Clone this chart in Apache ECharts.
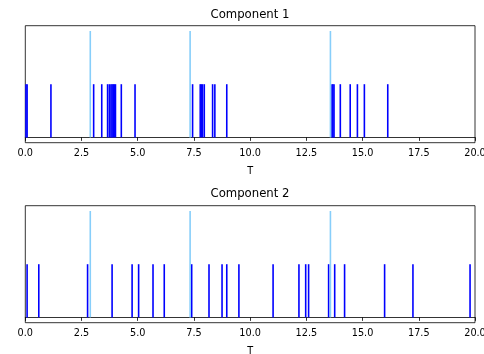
<!DOCTYPE html>
<html>
<head>
<meta charset="utf-8">
<script src="https://cdn.jsdelivr.net/npm/echarts@6/dist/echarts.min.js"></script>
<style>html,body{margin:0;padding:0;background:#fff;overflow:hidden}#c{width:484px;height:354px}</style>
</head>
<body>
<div id="c"></div>
<script>
// ---- data ----
const titles = ["Component 1", "Component 2"];
const axisName = "T";
const xTicks = [0, 2.5, 5, 7.5, 10, 12.5, 15, 17.5, 20];
const comp1Events = [0.03, 0.08, 1.14, 3.04, 3.40, 3.66, 3.74, 3.81, 3.86, 3.91, 3.96, 4.01, 4.27, 4.88,
  7.44, 7.78, 7.83, 7.88, 7.96, 8.33, 8.43, 8.96,
  13.64, 13.68, 13.73, 14.01, 14.45, 14.77, 15.08, 16.12];
const comp2Events = [0.08, 0.60, 2.77, 3.86, 4.75, 5.04, 5.68, 6.18, 7.40, 8.17, 8.75, 8.96, 9.50,
  11.02, 12.17, 12.47, 12.60, 13.49, 13.76, 14.20, 15.98, 17.24, 19.78];
const changePoints = [2.89, 7.33, 13.57];
const eventHeight = 0.5;
const changeHeight = 1.0;

// ---- chart ----
const chart = echarts.init(document.getElementById('c'), null, {renderer: 'canvas', width: 484, height: 354});
const FONT = 'DejaVu Sans';
const grids = [
  {left: 25.3, width: 449.7, top: 25.7, height: 117, show: true, borderColor: '#000', borderWidth: 0.8,
    backgroundColor: 'transparent', containLabel: false, outerBoundsMode: 'none'},
  {left: 25.3, width: 449.7, top: 205.7, height: 117, show: true, borderColor: '#000', borderWidth: 0.8,
    backgroundColor: 'transparent', containLabel: false, outerBoundsMode: 'none'}
];
function xAxis(i) {
  return {
    type: 'value', gridIndex: i, min: 0, max: 20, interval: 2.5,
    name: axisName, nameLocation: 'middle', nameGap: 24,
    nameTextStyle: {fontFamily: FONT, fontSize: 9.7, color: '#000'},
    axisLine: {show: true, lineStyle: {color: '#000', width: 0.8}},
    axisTick: {show: true, length: 3.5, lineStyle: {color: '#000', width: 0.8}},
    axisLabel: {show: true, margin: 6, fontFamily: FONT, fontSize: 9.7, color: '#000',
      formatter: v => Number(v).toFixed(1), showMinLabel: true, showMaxLabel: true, hideOverlap: false},
    splitLine: {show: false}
  };
}
function yAxis(i) {
  return {type: 'value', gridIndex: i, min: -0.05, max: 1.05, show: true,
    axisLine: {show: false}, axisTick: {show: false}, axisLabel: {show: false}, splitLine: {show: false}};
}
function vlineSeries(i, xs, h, color, z) {
  return {
    type: 'custom', xAxisIndex: i, yAxisIndex: i, z: z, silent: true,
    data: xs.map(x => [x, h]),
    renderItem: (params, api) => {
      const p0 = api.coord([api.value(0), 0]);
      const p1 = api.coord([api.value(0), api.value(1)]);
      return {type: 'line', shape: {x1: p0[0], y1: p0[1], x2: p1[0], y2: p1[1]},
        style: {stroke: color, lineWidth: 1.6}};
    }
  };
}
chart.setOption({
  animation: false,
  backgroundColor: '#fff',
  title: [
    {text: titles[0], left: 250, top: 8.5, textAlign: 'center', padding: 0,
      textStyle: {fontFamily: FONT, fontSize: 11.7, fontWeight: 'normal', color: '#000'}},
    {text: titles[1], left: 250, top: 188, textAlign: 'center', padding: 0,
      textStyle: {fontFamily: FONT, fontSize: 11.7, fontWeight: 'normal', color: '#000'}}
  ],
  grid: grids,
  xAxis: [xAxis(0), xAxis(1)],
  yAxis: [yAxis(0), yAxis(1)],
  series: [
    vlineSeries(0, comp1Events, eventHeight, '#0000ff', 2),
    vlineSeries(0, changePoints, changeHeight, '#87cefa', 3),
    vlineSeries(1, comp2Events, eventHeight, '#0000ff', 2),
    vlineSeries(1, changePoints, changeHeight, '#87cefa', 3)
  ]
});
</script>
</body>
</html>
